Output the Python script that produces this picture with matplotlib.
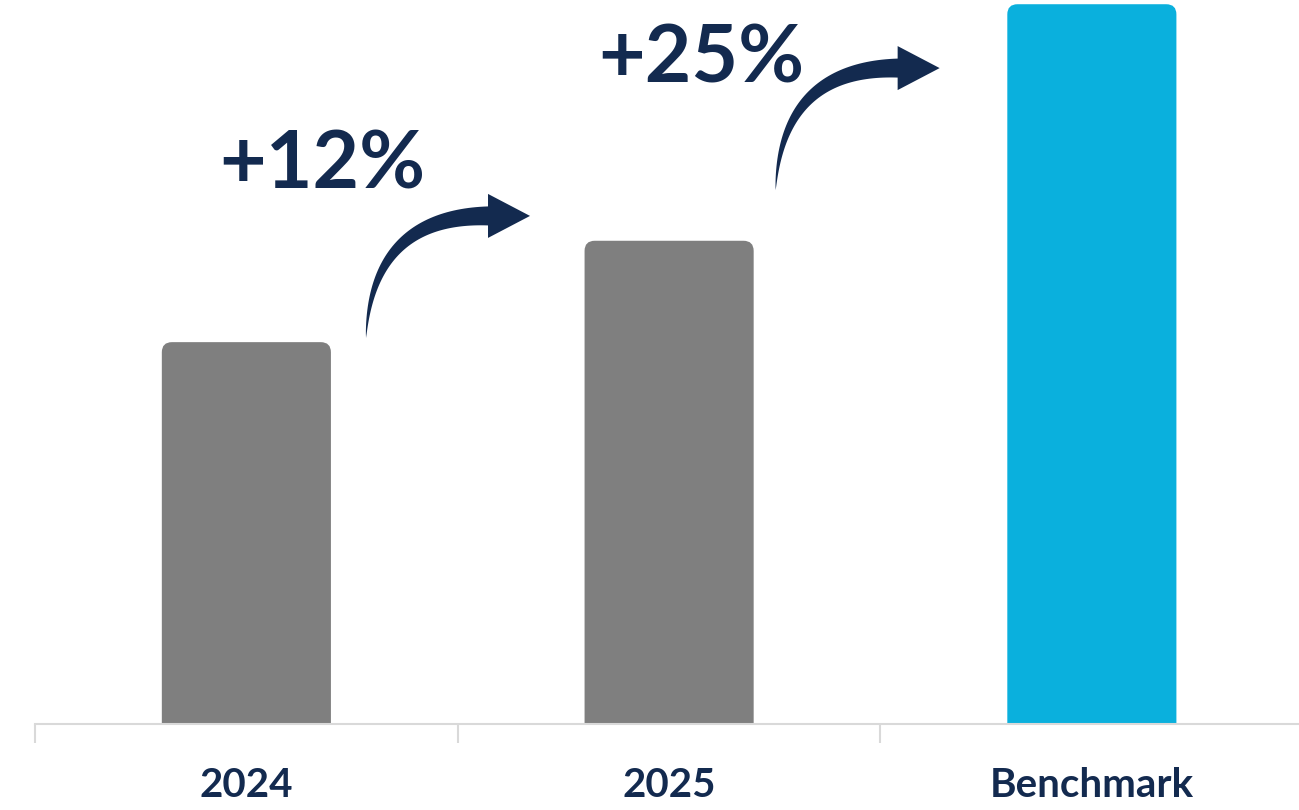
import numpy as np
import matplotlib
matplotlib.use("Agg")
import matplotlib.pyplot as plt
from matplotlib.patches import FancyBboxPatch, Polygon

# chart data
categories = ["2024", "2025", "Benchmark"]
values = [100, 112, 140]
bar_colors = ["#7f7f7f", "#7f7f7f", "#0ab0dd"]
growth_labels = ["+12%", "+25%"]

NAVY = "#132a4f"
plt.rcParams["font.family"] = ["Lato", "DejaVu Sans"]

fig = plt.figure(figsize=(12.99, 8.10), dpi=100)
ax = fig.add_axes([35 / 1299, 86 / 810, 1 - 35 / 1299, 724 / 810])
ax.set_xlim(-0.5, 2.49)
ax.set_ylim(54.8, 140.5)

# bars with rounded tops (the rounded bottom sits below the axis and is clipped)
bars = ax.bar(range(len(values)), values, width=0.40, color=bar_colors)
for b in bars:
    x, w, h = b.get_x(), b.get_width(), b.get_height()
    b.set_visible(False)
    ax.add_patch(FancyBboxPatch((x, 40), w, h - 40,
                                boxstyle="round,pad=0,rounding_size=0.024",
                                mutation_aspect=50, fc=b.get_facecolor(),
                                ec="none", zorder=2))

for s in ["top", "right", "left"]:
    ax.spines[s].set_visible(False)
ax.spines["bottom"].set_color("#d9d9d9")
ax.spines["bottom"].set_linewidth(1.5)
ax.set_yticks([])
ax.set_xticks(range(len(categories)))
ax.set_xticklabels(categories, fontsize=29, fontweight="bold", color=NAVY)
ax.tick_params(axis="x", length=0, pad=31)
ax.set_xticks([-0.5, 0.5, 1.5], minor=True)
ax.tick_params(axis="x", which="minor", length=14, width=1.5, color="#d9d9d9")


def curved_arrow(ax, tail, n=60):
    """Tapered curved arrow, shape given in pixel offsets from the tail point."""
    p0 = np.array([0.0, 0.0])
    p1 = np.array([6.0, 122.0])
    p2 = np.array([122.0, 122.0])
    t = np.linspace(0, 1, n)[:, None]
    c = (1 - t) ** 2 * p0 + 2 * (1 - t) * t * p1 + t ** 2 * p2
    d = 2 * (1 - t) * (p1 - p0) + 2 * t * (p2 - p1)
    d = d / np.linalg.norm(d, axis=1, keepdims=True)
    nrm = np.column_stack([-d[:, 1], d[:, 0]])
    half = 9.5 * t[:, 0] ** 0.8
    left = c + nrm * half[:, None]
    right = c - nrm * half[:, None]
    end, tan, nv = c[-1], d[-1], nrm[-1]
    head = [end + nv * 22, end + tan * 42, end - nv * 22]
    pts = np.vstack([left, head, right[::-1]])
    base = ax.transData.transform(tail)
    verts = ax.transData.inverted().transform(pts + base)
    ax.add_patch(Polygon(verts, closed=True, fc=NAVY, ec="none", zorder=3))


curved_arrow(ax, (0.283, 100.5))
curved_arrow(ax, (1.252, 118.0))

ax.text(0.18, 120.9, growth_labels[0], fontsize=58, fontweight="bold",
        color=NAVY, ha="center", va="center")
ax.text(1.077, 133.5, growth_labels[1], fontsize=58,
        fontweight="bold", color=NAVY, ha="center", va="center")

fig.savefig("out.png", dpi=100)
